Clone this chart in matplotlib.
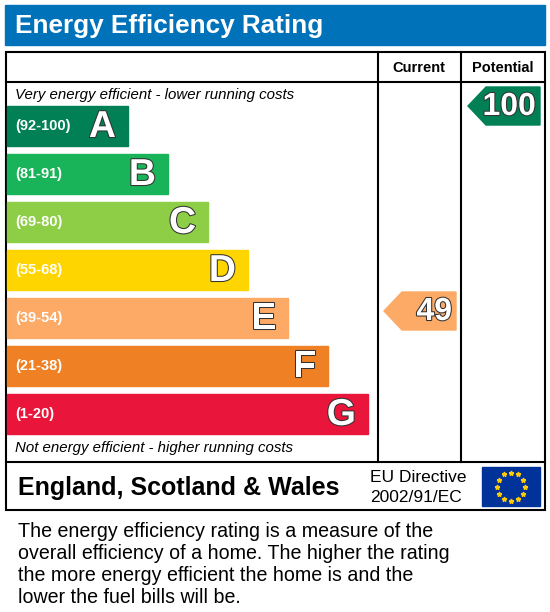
import matplotlib
matplotlib.use("Agg")
import matplotlib.pyplot as plt
from matplotlib.patches import Rectangle, Polygon
import matplotlib.patheffects as pe
import numpy as np

letters = ["A", "B", "C", "D", "E", "F", "G"]
ranges = ["(92-100)", "(81-91)", "(69-80)", "(55-68)", "(39-54)", "(21-38)", "(1-20)"]
colors = ["#008054", "#19b459", "#8dce46", "#ffd500", "#fcaa65", "#ef8023", "#e9153b"]
current = 49
potential = 100

fig = plt.figure(figsize=(5.5, 6.12), dpi=100)
ax = fig.add_axes([0, 0, 1, 1])
ax.set_xlim(0, 550); ax.set_ylim(612, 0); ax.axis("off")
F = "Liberation Sans"

ax.add_patch(Rectangle((5, 5), 540, 40, color="#0072b9"))
ax.text(15, 26, "Energy Efficiency Rating", color="white", fontsize=18.8, weight="bold", va="center", family=F)

lw = 1.5
ax.add_patch(Rectangle((6, 52), 539, 458, fill=False, lw=lw, ec="black"))
ax.plot([6, 545], [82, 82], color="black", lw=lw)
ax.plot([6, 545], [462, 462], color="black", lw=lw)
for x in (378, 461):
    ax.plot([x, x], [52, 462], color="black", lw=lw)
ax.text(419, 68, "Current", ha="center", va="center", fontsize=10.5, weight="bold", family=F)
ax.text(503, 68, "Potential", ha="center", va="center", fontsize=10.5, weight="bold", family=F)
ax.text(15, 95, "Very energy efficient - lower running costs", fontsize=10.8, style="italic", va="center", family=F)
ax.text(15, 448, "Not energy efficient - higher running costs", fontsize=10.8, style="italic", va="center", family=F)

def band_of(v):
    lows = [92, 81, 69, 55, 39, 21, 1]
    for i, lo in enumerate(lows):
        if v >= lo:
            return i
    return 6

for i, (L, r, c) in enumerate(zip(letters, ranges, colors)):
    y0 = 106 + 48 * i
    right = 128 + 40 * i
    ax.add_patch(Rectangle((7, y0), right - 7, 40, color=c))
    ax.text(15, y0 + 20, r, color="white", fontsize=10.5, weight="bold", va="center", family=F)
    ax.text(right - 12, y0 + 21, L, color="white", fontsize=27, weight="bold", ha="right", va="center", family=F,
            path_effects=[pe.withStroke(linewidth=1.5, foreground="#333333")])

def arrow(x0, x1, y0, val):
    c = colors[band_of(val)]
    h = 38
    ax.add_patch(Polygon([(x0, y0 + h / 2), (x0 + 18, y0), (x1, y0), (x1, y0 + h), (x0 + 18, y0 + h)], color=c))
    ax.text(x1 - 4, y0 + h / 2 + 1, str(val), color="white", fontsize=23, weight="bold", ha="right", va="center", family=F,
            path_effects=[pe.withStroke(linewidth=1.5, foreground="#333333")])

arrow(384, 456, 292, current)
arrow(468, 540, 87, potential)

ax.text(18, 488, "England, Scotland & Wales", fontsize=18, weight="bold", va="center", family=F)
ax.text(370, 477, "EU Directive", fontsize=12.5, va="center", family=F)
ax.text(370, 497, "2002/91/EC", fontsize=12.5, va="center", family=F)
ax.add_patch(Rectangle((482, 467), 58, 39, color="#003399"))
cx, cy = 511, 486.5
for k in range(12):
    a = 2 * np.pi * k / 12
    ax.plot(cx + 14 * np.cos(a), cy + 14 * np.sin(a), marker="*", color="#ffcc00", ms=3.5, mec="#ffcc00")

desc = ("The energy efficiency rating is a measure of the\noverall efficiency of a home. The higher the rating\n"
        "the more energy efficient the home is and the\nlower the fuel bills will be.")
ax.text(18, 522, desc, fontsize=14.1, va="top", family=F, linespacing=1.2)

fig.savefig("out.png", dpi=100)
